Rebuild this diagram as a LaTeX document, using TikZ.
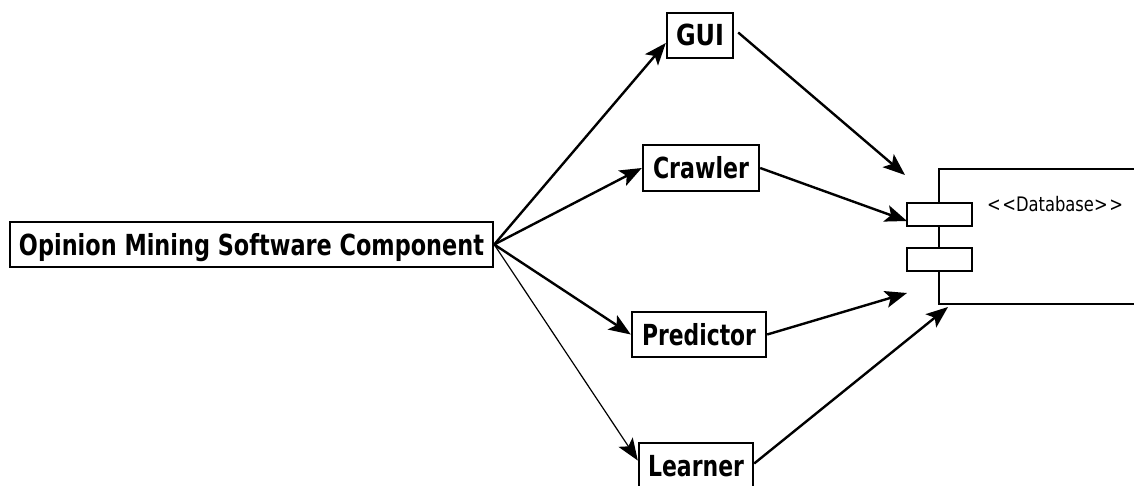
\documentclass[tikz,border=0pt]{standalone}
\usepackage{fontspec}
\setmainfont{DejaVu Sans}
\usetikzlibrary{arrows.meta,calc}
\makeatletter
\newcommand\fitwd[2]{\setbox0=\hbox{#2}\pgfmathsetmacro\fitratio{#1/\strip@pt\wd0}\scalebox{\fitratio}[1]{\box0}}
\makeatother
\tikzset{
  comp/.style={draw, line width=2.4pt, inner sep=0pt, minimum height=45pt, fill=white,
    font=\fontsize{29}{30}\selectfont\bfseries, text height=21pt, text depth=0pt},
  port/.style={draw, line width=2.4pt, fill=white, inner sep=0pt, minimum width=65pt, minimum height=23pt},
  thick arrow/.style={line width=2.4pt, -{Stealth[length=22pt,width=17pt,inset=5pt]}},
  thin arrow/.style={line width=1.2pt, -{Stealth[length=22pt,width=17pt,inset=5pt]}}
}
\begin{document}
\begin{tikzpicture}[x=1pt,y=-1pt]
\useasboundingbox (0,0) rectangle (1134,486);
% database
\node[draw, line width=2.4pt, inner sep=0pt, minimum width=221pt, minimum height=135pt] (db) at (1049.5,236.5) {};
\node[port] (p1) at (939.5,214.5) {};
\node[port] (p2) at (939.5,259.5) {};
\node[inner sep=0pt, font=\fontsize{20}{22}\selectfont, text height=14pt, text depth=0pt] (dbl) at (1055,205) {\fitwd{136}{<\kern2pt<Database>\kern2pt>}};
% components
\node[comp, minimum width=483pt] (main) at (251.5,244.5) {\fitwd{465}{Opinion Mining Software Component}};
\node[comp, minimum width=66pt] (gui) at (700,35.5) {\fitwd{48}{GUI}};
\node[comp, minimum width=116pt, minimum height=46pt] (crawler) at (701,168) {\fitwd{96}{Crawler}};
\node[comp, minimum width=134pt] (predictor) at (699,334.5) {\fitwd{114}{Predictor}};
\node[comp, minimum width=114pt] (learner) at (696,465.5) {\fitwd{96}{Learner}};
% free ends near database
\coordinate (tgui) at (905,175);
\coordinate (tcrawler) at (907,221);
\coordinate (tpred) at (907,293);
\coordinate (tlearn) at (948,307);
% arrows from main
\draw[thick arrow] (main.east) -- ([yshift=-7.5pt]gui.west);
\draw[thick arrow] (main.east) -- (crawler.west);
\draw[thick arrow] (main.east) -- (predictor.west);
\draw[thin arrow] (main.east) -- ([yshift=5pt]learner.west);
% arrows to database
\draw[thick arrow] ([xshift=4pt,yshift=3pt]gui.east) -- (tgui);
\draw[thick arrow] (crawler.east) -- (tcrawler);
\draw[thick arrow] (predictor.east) -- (tpred);
\draw[thick arrow] ([yshift=2pt]learner.east) -- (tlearn);
\end{tikzpicture}
\end{document}
